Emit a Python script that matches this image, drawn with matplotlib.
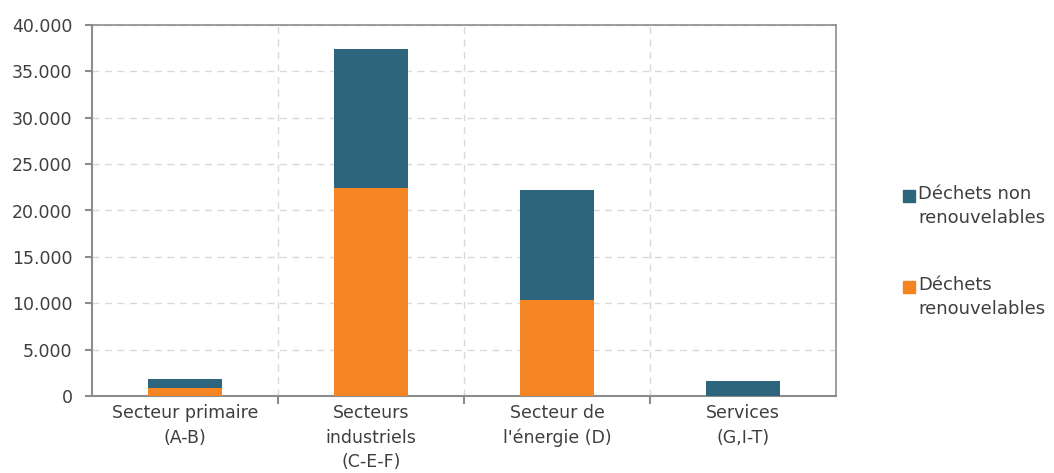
import numpy as np
import matplotlib
matplotlib.use("Agg")
import matplotlib.pyplot as plt
from matplotlib.patches import Rectangle
from matplotlib.ticker import FuncFormatter

categories = ["Secteur primaire\n(A-B)", "Secteurs\nindustriels\n(C-E-F)",
              "Secteur de\nl'énergie (D)", "Services\n(G,I-T)"]
renouvelables = [850, 22400, 10400, 0]
non_renouvelables = [950, 15000, 11800, 1600]
legend_labels = ["Déchets non\nrenouvelables", "Déchets\nrenouvelables"]

col_blue = "#2D667C"
col_orange = "#F58522"
txt_col = "#3F3F3F"
axis_col = "#8C8C8C"

plt.rcParams["font.family"] = ["DejaVu Sans"]

fig = plt.figure(figsize=(10.54, 4.73), dpi=100)
ax = fig.add_axes([92 / 1054, 1 - 396 / 473, (836 - 92) / 1054, (396 - 25) / 473])

x = np.arange(len(categories))
ax.bar(x, renouvelables, width=0.40, color=col_orange, zorder=3)
ax.bar(x, non_renouvelables, width=0.40, bottom=renouvelables, color=col_blue, zorder=3)

ax.set_xlim(-0.5, len(categories) - 0.5)
ax.set_ylim(0, 40000)
ax.set_yticks(np.arange(0, 40001, 5000))
ax.yaxis.set_major_formatter(FuncFormatter(lambda v, p: f"{int(v):,}".replace(",", ".")))

ax.set_xticks(x)
ax.set_xticklabels(categories, color=txt_col, fontsize=12.5, linespacing=1.45)
ax.set_xticks(np.arange(0.5, len(categories) - 1, 1), minor=True)
ax.tick_params(axis="x", which="major", length=0, pad=6)
ax.tick_params(axis="x", which="minor", length=6, color=axis_col, width=1.5)
ax.tick_params(axis="y", length=5, color=axis_col, width=1.5, labelcolor=txt_col,
               labelsize=12.5, pad=9)

ax.grid(axis="y", linestyle=(0, (5, 4)), color="#D9D9D9", linewidth=1, zorder=0)
ax.grid(axis="x", which="minor", linestyle=(0, (5, 4)), color="#D9D9D9", linewidth=1, zorder=0)

for s in ax.spines.values():
    s.set_color(axis_col)
    s.set_linewidth(1.5)
ax.spines["top"].set_linewidth(1.2)
ax.spines["right"].set_linewidth(1.2)

# legend drawn by hand: square aligned with the first text line
for i, (lab, col) in enumerate(zip(legend_labels, [col_blue, col_orange])):
    ytop = 1 - (190 + i * 91) / 473
    fig.patches.append(Rectangle((903 / 1054, ytop - 12 / 473), 12 / 1054, 12 / 473,
                                 transform=fig.transFigure, color=col, figure=fig))
    fig.text(918 / 1054, ytop + 5 / 473, lab, ha="left", va="top", fontsize=13,
             color=txt_col, linespacing=1.45)

fig.savefig("out.png", dpi=100)
